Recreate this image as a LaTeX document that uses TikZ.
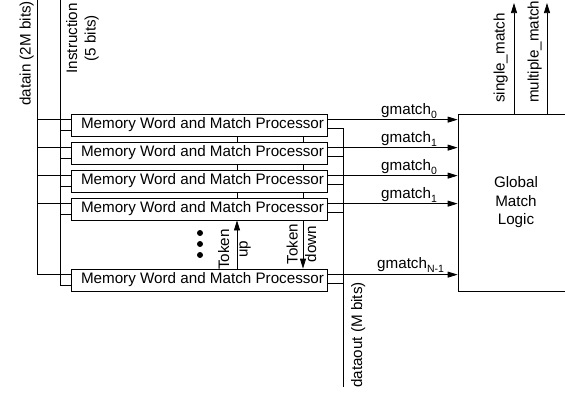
\documentclass[tikz,border=0pt]{standalone}
\usepackage{fontspec}
\setmainfont{Liberation Sans}
\usetikzlibrary{arrows.meta,calc}
\newcommand\gsub[1]{\raisebox{-3.5pt}{\fontsize{10.5}{10.5}\selectfont #1}}
\begin{document}
\begin{tikzpicture}[x=1pt,y=-1pt,
  every node/.style={font=\fontsize{15.2}{18.5}\selectfont, inner sep=0pt},
  wire/.style={line width=0.75pt},
  sig/.style={wire,-{Triangle[length=10pt,width=6pt]}},
  mwmp/.style={draw, line width=0.75pt, minimum width=256pt, minimum height=22pt, inner xsep=2pt},
  vlabel/.style={rotate=90, align=center},
  dot/.style={circle, fill, minimum size=6pt},
]
\useasboundingbox (0,0) rectangle (565,392);
\clip (0,0) rectangle (565,392);

% memory word processors
\foreach \i/\y in {1/125,2/153,3/181,4/209,5/280}{
  \node[mwmp] (m\i) at (199,\y) {\hspace*{7pt}Memory Word and Match Processor};
  \coordinate (in\i) at ($(m\i.north west)+(0,5.5)$);
  \coordinate (ins\i) at ($(m\i.north west)+(0,17)$);
  \coordinate (gm\i) at ($(m\i.north east)+(0,6)$);
  \coordinate (do\i) at ($(m\i.north east)+(0,15)$);
}

% global match logic
\node[draw, line width=0.75pt, minimum width=116pt, minimum height=177pt, align=center]
  (gml) at (516,202.5) {Global\\Match\\Logic};

% datain bus
\coordinate (dtop) at (37,0);
\draw[wire] (dtop) |- (in5);
\foreach \i in {1,...,4} \draw[wire] (in\i -| dtop) -- (in\i);
\node[vlabel, anchor=south west] (dlab) at (34,106) {datain (2M bits)};

% instruction bus
\coordinate (itop) at (60,0);
\draw[wire] (itop) |- (ins5);
\foreach \i in {1,...,4} \draw[wire] (ins\i -| itop) -- (ins\i);
\node[vlabel, anchor=east] (ilab) at (82.5,3) {Instruction\\(5 bits)};

% dataout bus
\coordinate (dbot) at (343,387);
\draw[wire] (do1) -| (dbot);
\foreach \i in {2,...,5} \draw[wire] (do\i) -- (do\i -| dbot);
\node[vlabel, anchor=north west] (olab) at (351,388) {dataout (M bits)};

% match signals
\foreach \i in {1,...,5} \draw[sig] (gm\i) -- (gm\i -| gml.west);
\foreach \i/\s in {1/0,2/1,3/0,4/1}
  \node[anchor=base west] (g\i) at ($(gm\i -| 381,0)+(0,-5)$) {gmatch\gsub{\s}};
\node[anchor=base west] (g5) at ($(gm5 -| 377,0)+(0,-6)$) {gmatch\gsub{N-1}};

% token chain
\foreach \a/\b in {1/2,2/3,3/4}{
  \draw[wire] (m\a.south -| 237,0) -- (m\b.north -| 237,0);
  \draw[wire] (m\a.south -| 303,0) -- (m\b.north -| 303,0);
}
\draw[sig] (m5.north -| 237,0) -- (m4.south -| 237,0);
\draw[sig] (m4.south -| 303,0) -- (m5.north -| 303,0);
\node[vlabel] (tup) at (234.5,249.5) {Token\\up};
\node[vlabel] (tdn) at (301.5,244) {Token\\down};
\foreach \i/\y in {1/233,2/244,3/255} \node[dot] (d\i) at (200,\y) {};

% outputs
\coordinate (smtop) at (514,3);
\coordinate (mmtop) at (547,3);
\draw[sig] (gml.north -| smtop) -- (smtop);
\draw[sig] (gml.north -| mmtop) -- (mmtop);
\node[vlabel, anchor=south west] (slab) at (508,103) {single\_match};
\node[vlabel, anchor=south west] (mlab) at (542,103) {multiple\_match};
\end{tikzpicture}
\end{document}
